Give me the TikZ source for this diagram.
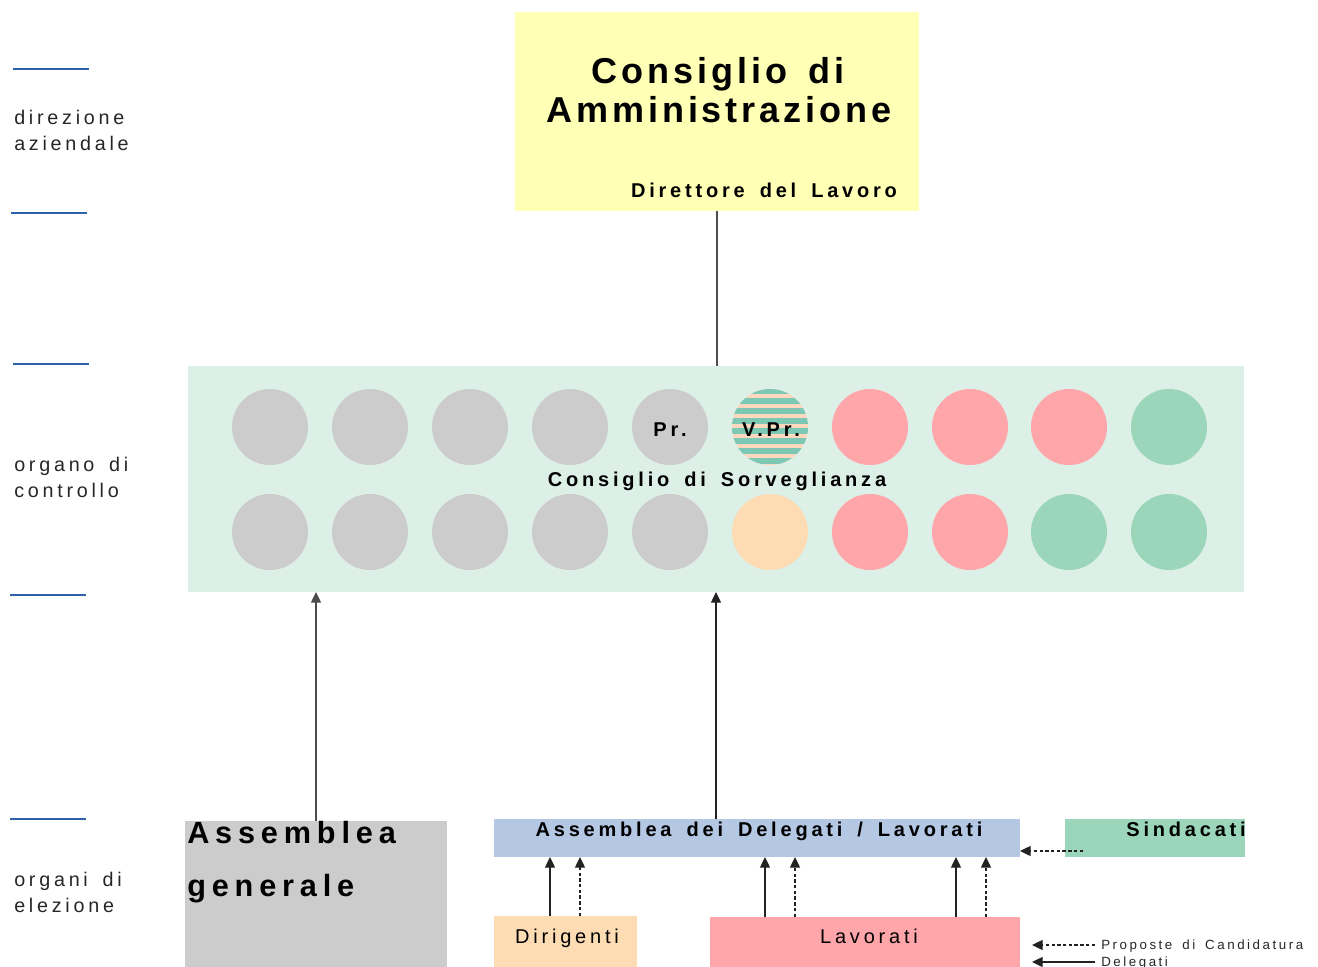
\documentclass[tikz,border=0pt]{standalone}
\usepackage{fontspec}
\setmainfont{Liberation Sans}
\newfontfamily\wide[LetterSpace=19,WordSpace=1.6]{Liberation Sans}
\newfontfamily\widebig[LetterSpace=11,WordSpace=1.5]{Liberation Sans}
\usetikzlibrary{arrows.meta}
\definecolor{cyel}{HTML}{FFFFB5}
\definecolor{cpanel}{HTML}{DDF0E7}
\definecolor{cgrey}{HTML}{CCCCCC}
\definecolor{cpink}{HTML}{FFA6AA}
\definecolor{cgreen}{HTML}{9BD6BA}
\definecolor{cpeach}{HTML}{FDDBB3}
\definecolor{cblue}{HTML}{B4C8E4}
\definecolor{cteal}{HTML}{7CC8B4}
\definecolor{cstripe}{HTML}{FDD8BE}
\definecolor{clay}{HTML}{2E62A8}
\definecolor{cline}{HTML}{222222}
\newcommand\fsz[2]{\fontsize{#1}{#2}\selectfont}
\begin{document}
\begin{tikzpicture}[x=0.75pt,y=-0.75pt,
  box/.style={draw=none,inner sep=0pt,outer sep=0pt,anchor=north west},
  circ/.style={circle,inner sep=0pt,outer sep=0pt,minimum size=57pt,draw=none},
  arr/.style={draw=cline,line width=1pt,-{Triangle[width=7.5pt,length=8pt]}},
  darr/.style={arr,dash pattern=on 2.5pt off 1.8pt},
  lay/.style={draw=clay,line width=0.9pt},
  lab/.style={inner sep=0pt,anchor=base west,align=left,font=\wide\fsz{14.8pt}{19.5pt},text=black!85},
  btxt/.style={inner sep=0pt,anchor=base,font=\wide\bfseries\fsz{15pt}{18pt}},
  rtxt/.style={inner sep=0pt,anchor=base,font=\wide\fsz{15pt}{18pt}},
]
\useasboundingbox (0,0) rectangle (1318,967);

% layer separators and labels
\draw[lay] (13,69) -- (89,69);
\draw[lay] (11,213) -- (87,213);
\draw[lay] (13,364) -- (89,364);
\draw[lay] (10,595) -- (86,595);
\draw[lay] (10,819) -- (86,819);
\node[lab] (ldir) at (14,150) {direzione\\aziendale};
\node[lab] (lorg) at (14,497) {organo di\\controllo};
\node[lab] (lele) at (14,912) {organi di\\elezione};

% Consiglio di Amministrazione
\node[box,fill=cyel,minimum width=303pt,minimum height=149.25pt] (cda) at (515,12) {};
\node[inner sep=0pt,anchor=base,font=\widebig\bfseries\fsz{27pt}{30pt}] (cda1) at (718,83) {Consiglio di};
\node[inner sep=0pt,anchor=base,font=\widebig\bfseries\fsz{27pt}{30pt}] (cda2) at (719,122) {Amministrazione};
\node[btxt] (dir) at (764,197) {Direttore del Lavoro};

% Consiglio di Sorveglianza
\node[box,fill=cpanel,minimum width=792pt,minimum height=169.5pt] (panel) at (188,366) {};
\draw[draw=black!70,line width=1pt] (cda.south) -- (cda.south |- panel.north);

\foreach \x/\c [count=\i] in {270/cgrey,370/cgrey,470/cgrey,570/cgrey,670/cgrey,770/cpanel,870/cpink,970/cpink,1069/cpink,1169/cgreen}
  \node[circ,fill=\c] (t\i) at (\x,427) {};
\foreach \x/\c [count=\i] in {270/cgrey,370/cgrey,470/cgrey,570/cgrey,670/cgrey,770/cpeach,870/cpink,970/cpink,1069/cgreen,1169/cgreen}
  \node[circ,fill=\c] (b\i) at (\x,532) {};
\begin{scope}
  \clip (t6.center) circle (28.5pt);
  \fill[cstripe] (728,386) rectangle (812,468);
  \foreach \k in {0,...,8}
    \fill[cteal] (728,{388+\k*10}) rectangle (812,{394+\k*10});
\end{scope}
\node[btxt] (pr) at (670,436) {Pr.};
\node[btxt] (vpr) at (771,436) {V.Pr.};
\node[btxt] (cds) at (717,486) {Consiglio di Sorveglianza};

% Organi di elezione
\node[box,fill=cgrey,minimum width=196.5pt,minimum height=111pt] (ag) at (185,821) {};
\node[inner sep=0pt,anchor=base west,font=\wide\bfseries\fsz{23pt}{26pt}] (ag1) at (187,843) {Assemblea};
\node[inner sep=0pt,anchor=base west,font=\wide\bfseries\fsz{23pt}{26pt}] (ag2) at (187,896) {generale};

\node[box,fill=cblue,minimum width=394.5pt,minimum height=28.5pt] (add) at (494,819) {};
\node[btxt] (addt) at (759,836) {Assemblea dei Delegati / Lavorati};

\node[box,fill=cgreen,minimum width=135pt,minimum height=28.5pt] (sin) at (1065,819) {};
\node[btxt,anchor=base east] (sint) at (1246,836) {Sindacati};

\node[box,fill=cpeach,minimum width=107.25pt,minimum height=42pt] (dirig) at (494,916) {};
\node[rtxt] (dirigt) at (567,943) {Dirigenti};

\node[box,fill=cpink,minimum width=232.5pt,minimum height=41pt] (lav) at (710,917) {};
\node[rtxt] (lavt) at (869,943) {Lavorati};

% main arrows
\draw[arr,draw=black!70] (ag.north) -- (ag.north |- panel.south);
\draw[arr] (add.north -| panel.south) -- (panel.south);

% election arrows
\coordinate (d1) at (550,916);
\coordinate (d2) at (580,916);
\coordinate (w1) at (765,917);
\coordinate (w2) at (795,917);
\coordinate (w3) at (956,917);
\coordinate (w4) at (986,917);
\draw[arr] (d1) -- (d1 |- add.south);
\draw[darr] (d2) -- (d2 |- add.south);
\draw[arr] (w1) -- (w1 |- add.south);
\draw[darr] (w2) -- (w2 |- add.south);
\draw[arr] (w3) -- (w3 |- add.south);
\draw[darr] (w4) -- (w4 |- add.south);
\coordinate (s1) at (1083,851);
\draw[darr] (s1) -- (s1 -| add.east);

% legend
\node[inner sep=0pt,anchor=base west,font=\wide\fsz{10pt}{12pt},text=black!85] (lp) at (1101,949) {Proposte di Candidatura};
\node[inner sep=0pt,anchor=base west,font=\wide\fsz{10pt}{12pt},text=black!85] (ld) at (1101,966) {Delegati};
\coordinate (lp0) at (1095,945);
\coordinate (lp1) at (1032,945);
\coordinate (ld0) at (1095,962);
\coordinate (ld1) at (1032,962);
\draw[darr] (lp0) -- (lp1);
\draw[arr] (ld0) -- (ld1);
\end{tikzpicture}
\end{document}
